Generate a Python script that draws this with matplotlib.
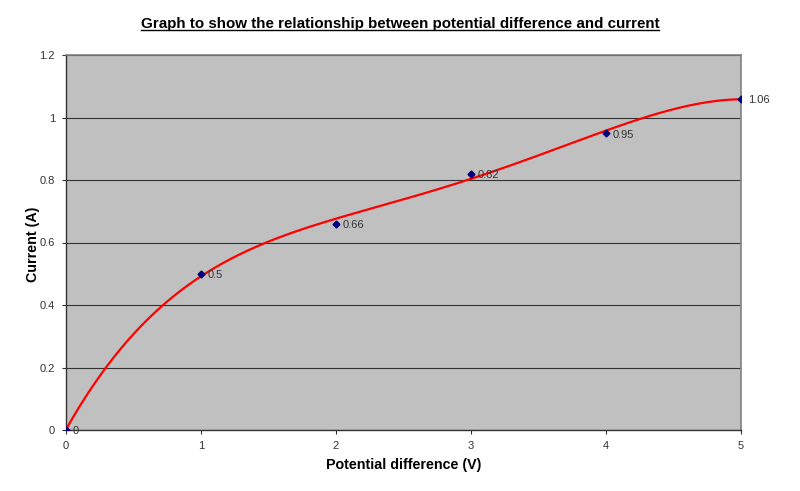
import numpy as np
import matplotlib
matplotlib.use("Agg")
import matplotlib.pyplot as plt
from matplotlib.lines import Line2D

voltage = [0, 1, 2, 3, 4, 5]
current = [0, 0.5, 0.66, 0.82, 0.95, 1.06]
point_labels = ["0", "0.5", "0.66", "0.82", "0.95", "1.06"]
x_ticks = [0, 1, 2, 3, 4, 5]
y_ticks = [0, 0.2, 0.4, 0.6, 0.8, 1.0, 1.2]
y_tick_labels = ["0", "0.2", "0.4", "0.6", "0.8", "1", "1.2"]

title = "Graph to show the relationship between potential difference and current"
xlabel = "Potential difference (V)"
ylabel = "Current (A)"

fam = ["Liberation Sans", "DejaVu Sans"]

fig = plt.figure(figsize=(8, 4.91), dpi=100, facecolor="white")
ax = fig.add_axes([66/800, 1-430/491, (741-66)/800, (430-55)/491])
ax.set_facecolor("#c0c0c0")

# polynomial trendline (order 4) through data
coef = np.polyfit(voltage, current, 4)
xs = np.linspace(0, 5, 300)
ax.plot(xs, np.polyval(coef, xs), color="#ff0000", lw=1.6, zorder=3)

ax.plot(voltage, current, linestyle="none", marker="D", ms=3.5, color="#000080", zorder=4)
for x, y, lab in zip(voltage, current, point_labels):
    ax.annotate(lab, (x, y), xytext=(5, -1), textcoords="offset points",
                ha="left", va="center", fontsize=8, color="#333333",
                family=fam, zorder=5, annotation_clip=False)

ax.set_xlim(0, 5)
ax.set_ylim(0, 1.2)
ax.set_xticks(x_ticks)
ax.set_yticks(y_ticks)
ax.set_yticklabels(y_tick_labels)
for lbl in ax.get_xticklabels() + ax.get_yticklabels():
    lbl.set_family(fam)
    lbl.set_fontsize(8)
    lbl.set_color("#333333")
ax.tick_params(axis="both", length=3, width=0.8, color="#333333", pad=5, direction="out")
ax.yaxis.grid(True, color="#333333", lw=0.8)
ax.set_axisbelow(True)
for s in ["left", "bottom"]:
    ax.spines[s].set_color("#333333")
    ax.spines[s].set_linewidth(1.0)
for s in ["top", "right"]:
    ax.spines[s].set_color("#808080")
    ax.spines[s].set_linewidth(1.2)

fig.text(66/800 + (741-66)/800/2, 1-465/491, xlabel, ha="center", va="center",
         fontsize=10.3, fontweight="bold", family=fam)
fig.text(33/800, 1-244/491, ylabel, ha="center", va="center", rotation=90,
         fontsize=10.3, fontweight="bold", family=fam)

t = fig.text(400/800, 1-24/491, title, ha="center", va="center",
             fontsize=10.9, fontweight="bold", family=fam)
fig.canvas.draw()
bb = t.get_window_extent().transformed(fig.transFigure.inverted())
fig.add_artist(Line2D([bb.x0, bb.x1], [bb.y0 + 0.002, bb.y0 + 0.002],
                      transform=fig.transFigure, color="black", lw=1.0))

fig.savefig("out.png", dpi=100, facecolor="white")
